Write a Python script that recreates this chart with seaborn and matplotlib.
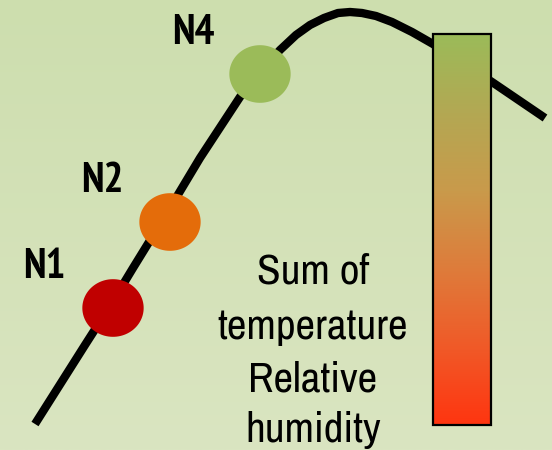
import numpy as np
import pandas as pd
import matplotlib
matplotlib.use("Agg")
import matplotlib.pyplot as plt
from matplotlib import font_manager as fm
from matplotlib.colors import LinearSegmentedColormap
from matplotlib.path import Path
import seaborn as sns

# ---- data (pixel-like units, y grows downward) ----
curve_x = [35, 85, 110, 133, 170, 200, 240, 262, 280, 296, 310, 324, 338, 350,
           362, 376, 392, 412, 433, 492, 545]
curve_y = [424, 345, 306, 268, 208, 158, 97, 70, 50, 35, 25, 18, 13, 12,
           13, 16, 22, 32, 44, 82, 118]

stages = ["N1", "N2", "N4"]
stage_x = [113, 170, 260]
stage_y = [308, 222, 74]
stage_colors = ["#c00000", "#e46c0a", "#9bbb59"]
label_x = [44, 102, 193]
label_y = [268, 182, 33]

text_lines = ["Sum of", "temperature", "Relative", "humidity"]

bar_colors = ["#9bbb59", "#b3a853", "#c99a4b", "#de7c3b", "#f05a28", "#ff3510"]

sns.set_theme(style="white")
plt.rcParams["font.family"] = ["Liberation Sans", "DejaVu Sans"]


def find_narrow(bold):
    cands = []
    for f in fm.fontManager.ttflist:
        name = f.name.lower()
        fname = f.fname.lower()
        is_bold = (f.weight in ("bold", 700) or (isinstance(f.weight, int) and f.weight >= 600))
        if is_bold != bold or f.style != "normal":
            continue
        if "narrow" in name or "narrow" in fname:
            cands.append((0, f.fname))
        elif "condensed" in name or "condensed" in fname or f.stretch == "condensed":
            if "roboto" in fname or "roboto" in name:
                cands.append((1, f.fname))
            elif "liberation" in fname or "arimo" in fname:
                cands.append((0, f.fname))
            elif "dejavu" in fname and "sans" in fname and "mono" not in fname:
                cands.append((3, f.fname))
            elif "semi" not in fname and "extra" not in fname:
                cands.append((2, f.fname))
    if cands:
        cands.sort()
        return fm.FontProperties(fname=cands[0][1])
    return fm.FontProperties(family=["Liberation Sans", "DejaVu Sans"],
                             weight="bold" if bold else "normal")


fp_reg = find_narrow(False)
fp_bold = find_narrow(True)

fig = plt.figure(figsize=(5.52, 4.5), dpi=100)
ax = fig.add_axes([0, 0, 1, 1])
ax.set_xlim(0, 552)
ax.set_ylim(450, 0)
ax.axis("off")

# background gradient
bg = LinearSegmentedColormap.from_list("bg", ["#cddeae", "#dae5c1"])
ax.imshow(np.linspace(0, 1, 256).reshape(-1, 1), cmap=bg, aspect="auto",
          extent=(0, 552, 450, 0), zorder=0)

df_curve = pd.DataFrame({"x": curve_x, "y": curve_y})
sns.lineplot(data=df_curve, x="x", y="y", sort=False, color="black", lw=6,
             ax=ax, zorder=2, solid_capstyle="butt", solid_joinstyle="round")

# elliptical marker (slightly wider than tall)
t = np.linspace(0, 2 * np.pi, 100)
ell = Path(np.column_stack([np.cos(t), 0.94 * np.sin(t)]), closed=True)

df_st = pd.DataFrame({"x": stage_x, "y": stage_y, "stage": stages})
sns.scatterplot(data=df_st, x="x", y="y", hue="stage", palette=stage_colors,
                marker=ell, s=1950, linewidth=0, ax=ax, zorder=3, legend=False)

for s, lx, ly in zip(stages, label_x, label_y):
    fpb = fp_bold.copy()
    fpb.set_size(30)
    ax.text(lx, ly, s, ha="center", va="center", fontproperties=fpb,
            color="black", zorder=4)

# colour bar
cm = LinearSegmentedColormap.from_list("bar", bar_colors)
ax.imshow(np.linspace(0, 1, 256).reshape(-1, 1), cmap=cm, aspect="auto",
          extent=(433, 491, 425, 34), zorder=5)
ax.add_patch(plt.Rectangle((433, 34), 58, 391, fill=False, ec="black", lw=1.6, zorder=6))

line_y = [272, 327, 379, 430]
for s, yy in zip(text_lines, line_y):
    fpr = fp_reg.copy()
    fpr.set_size(31)
    ax.text(313, yy, s, ha="center", va="center", fontproperties=fpr,
            color="black", zorder=4)

ax.set_xlim(0, 552)
ax.set_ylim(450, 0)
fig.savefig("out.png", dpi=100)
